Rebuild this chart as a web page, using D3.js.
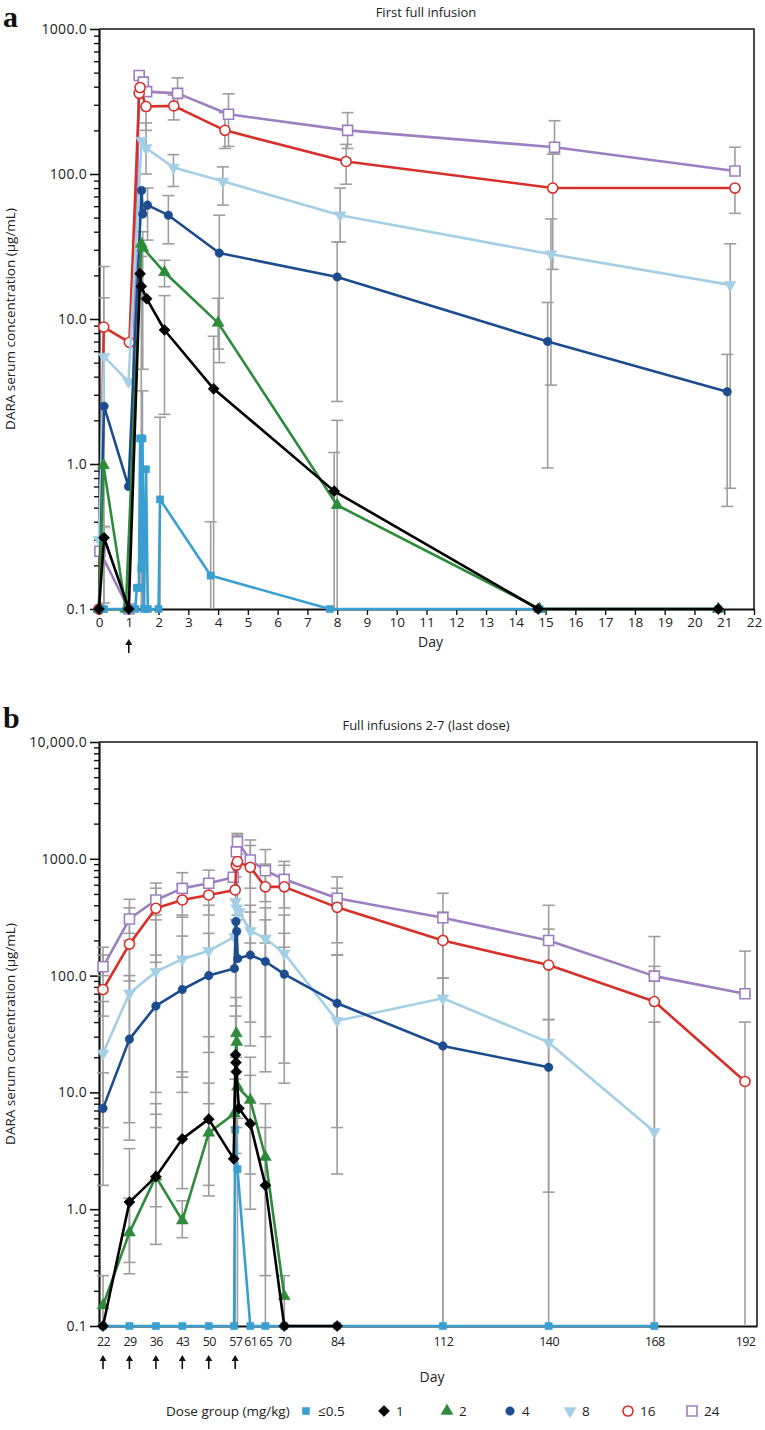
<!DOCTYPE html>
<html><head><meta charset="utf-8">
<script src="https://cdn.jsdelivr.net/npm/d3@7"></script>
<style>
body{margin:0;background:#fff}
svg{display:block}
text{font-family:"Open Sans",sans-serif;fill:#222}
text.panel-letter{font-family:"Liberation Serif","Times New Roman",serif;font-weight:bold;fill:#111}
</style>
</head><body>
<svg id="c" width="765" height="1430"></svg>
<script>
// ---------------- DATA ----------------
const seriesKeys = ["24","16","8","4","2","≤0.5","1"];
const legendKeys = ["≤0.5","1","2","4","8","16","24"];

// Panel a: first full infusion (day, value)
const aDays05 = [0, 0.17, 1.0, 1.22, 1.27, 1.34, 1.38, 1.42, 1.46, 1.51, 1.58, 1.64, 2.0, 2.05, 3.75, 7.75, 14.8, 20.8];
const aVals05 = [0.1, 0.1, 0.1, 0.1, 0.14, 0.14, 1.5, 0.19, 1.5, 0.1, 0.92, 0.1, 0.1, 0.57, 0.17, 0.1, 0.1, 0.1];
const aDays1  = [0, 0.17, 1.0, 1.38, 1.42, 1.6, 2.2, 3.85, 7.9, 14.75, 20.8];
const aVals1  = [0.1, 0.31, 0.1, 20.5, 16.8, 13.8, 8.4, 3.3, 0.65, 0.1, 0.1];
const aDays2  = [0, 0.15, 0.9, 1.42, 1.47, 2.2, 4.0, 8.0, 14.8, 20.8];
const aVals2  = [0.1, 0.98, 0.1, 33, 31, 21, 9.4, 0.52, 0.1, 0.1];
const aDays4  = [0, 0.17, 0.99, 1.43, 1.47, 1.63, 2.33, 4.04, 8.0, 15.07, 21.1];
const aVals4  = [0.1, 2.5, 0.7, 77, 53, 61, 52, 28.5, 19.5, 7.0, 3.15];
const aDays8  = [0, 0.17, 0.99, 1.43, 1.58, 2.5, 4.16, 8.1, 15.18, 21.2];
const aVals8  = [0.3, 5.5, 3.7, 170, 151, 111, 89, 52, 28, 17.2];
const aDays16 = [0, 0.16, 1.02, 1.35, 1.38, 1.58, 2.51, 4.23, 8.3, 15.24, 21.36];
const aVals16 = [0.1, 8.8, 6.9, 360, 395, 292, 295, 200, 122, 80, 80];
const aDays24 = [0.03, 1.0, 1.35, 1.49, 1.6, 2.64, 4.35, 8.35, 15.3, 21.36];
const aVals24 = [0.25, 0.1, 478, 430, 370, 360, 258, 200, 153, 105];

// Panel a error bars: [day, upper, lower]
const aErr05 = [[1.46, 3.2, 0.1], [2.05, 2.1, 0.1], [3.75, 0.4, 0.1]];
const aErr1  = [[0.17, 0.37, 0.11], [1.42, 27, 0.1], [2.2, 14.5, 2.2], [3.85, 7.6, 0.1], [7.9, 1.2, 0.1]];
const aErr2  = [[1.47, 40, 4.5], [2.2, 25.4, 16.7], [4.0, 13.9, 6.2], [8.0, 2.0, 0.1]];
const aErr4  = [[1.63, 80, 35], [2.33, 71, 33], [4.04, 52, 5], [8.0, 34, 2.7], [15.07, 13, 0.94], [21.1, 5.7, 0.51]];
const aErr8  = [[0.16, 14, 0.37], [1.58, 225, 100], [2.5, 136, 82], [4.16, 112, 61], [8.1, 80, 34], [15.18, 49, 3.5], [21.2, 33, 0.68]];
const aErr16 = [[0.16, 23, 0.1], [1.58, 292, 200], [2.51, 350, 236], [4.23, 265, 150], [8.3, 160, 85], [15.24, 137, 22], [21.36, 80, 53.5]];
const aErr24 = [[2.64, 460, 280], [4.35, 357, 155], [8.35, 265, 150], [15.3, 233, 137], [21.36, 153, 105]];

// Panel b: full infusions 2-7
const bDays05 = [22, 29, 36, 43, 50, 56.7, 57.0, 57.6, 61, 65, 70, 84, 112, 140, 168];
const bVals05 = [0.1, 0.1, 0.1, 0.1, 0.1, 0.1, 4.8, 2.2, 0.1, 0.1, 0.1, 0.1, 0.1, 0.1, 0.1];
const bDays1  = [22, 29, 36, 43, 50, 56.6, 57.1, 57.2, 57.3, 58.0, 61, 65, 70, 84];
const bVals1  = [0.1, 1.15, 1.9, 4.0, 5.9, 2.7, 21, 18, 15, 7.3, 5.4, 1.6, 0.1, 0.1];
const bDays2  = [22, 29, 36, 43, 50, 56.8, 57.3, 57.4, 57.6, 61, 65, 70];
const bVals2  = [0.15, 0.63, 1.9, 0.8, 4.5, 6.6, 32, 27, 11.2, 8.6, 2.8, 0.18];
const bDays4  = [22, 29, 36, 43, 50, 56.8, 57.2, 57.4, 57.7, 61, 65, 70, 84, 112, 140];
const bVals4  = [7.3, 28.6, 55, 76, 100, 115, 290, 240, 140, 150, 132, 103, 58, 25, 16.4];
const bDays8  = [22, 29, 36, 43, 50, 56.8, 57.1, 57.4, 58.1, 61, 65, 70, 84, 112, 140, 168];
const bVals8  = [21.6, 70.5, 108, 138, 163, 215, 430, 377, 350, 242, 208, 155, 41, 64, 26.8, 4.6];
const bDays16 = [22, 29, 36, 43, 50, 57, 57.3, 57.6, 61, 65, 70, 84, 112, 140, 168, 192];
const bVals16 = [76, 186, 377, 444, 490, 541, 885, 946, 845, 575, 575, 384, 200, 123, 60, 12.4];
const bDays24 = [22, 29, 36, 43, 50, 56.5, 57.3, 57.6, 61, 65, 70, 84, 112, 140, 168, 192];
const bVals24 = [119, 305, 444, 558, 617, 695, 1150, 1400, 977, 790, 667, 460, 313, 200, 99, 70];

const bErr05 = [[57.0, 13, 0.1], [57.6, 6, 0.1]];
const bErr1  = [[29, 3.3, 0.35], [36, 8, 1.05], [43, 15, 1.5], [50, 30, 1.3], [57.1, 45, 3], [61, 14, 1], [65, 5, 0.1]];
const bErr2  = [[22, 0.27, 0.1], [29, 1.24, 0.28], [36, 6.5, 0.5], [43, 1.18, 0.57], [50, 12, 1.6], [57.3, 65, 5], [61, 20, 2], [65, 8, 0.27], [70, 0.27, 0.1]];
const bErr4  = [[22, 14.7, 1.6], [29, 100, 3.9], [36, 150, 5], [43, 218, 10], [50, 230, 8], [57.2, 300, 20], [61, 350, 25], [65, 300, 15], [70, 230, 12], [84, 150, 5], [140, 42, 1.4]];
const bErr8  = [[22, 60, 5], [29, 200, 5.5], [36, 300, 10], [43, 330, 13.5], [50, 400, 22], [57.1, 700, 55], [61, 400, 40], [65, 380, 30], [70, 330, 17.8], [84, 150, 2], [112, 95, 0.1], [168, 40, 0.1]];
const bErr16 = [[22, 150, 45], [29, 380, 90], [36, 560, 130], [43, 600, 316], [50, 640, 330], [57.6, 1600, 330], [61, 1300, 190], [65, 900, 190], [70, 880, 175], [84, 560, 150], [112, 350, 0.1], [140, 250, 0.1], [168, 120, 0.1], [192, 40, 0.1]];
const bErr24 = [[22, 175, 100], [29, 450, 230], [36, 620, 330], [43, 760, 430], [50, 800, 470], [57.6, 1650, 1100], [61, 1450, 560], [65, 1200, 430], [70, 950, 380], [84, 700, 191], [112, 507, 95], [140, 400, 42], [168, 216, 99], [192, 162, 70]];

const aXTicks = [0,1,2,3,4,5,6,7,8,9,10,11,12,13,14,15,16,17,18,19,20,21,22];
const bXTicks = [22,29,36,43,50,57,61,65,70,84,112,140,168,192];
const aYTicks = [0.1, 1, 10, 100, 1000];
const aYLabels = ["0.1","1.0","10.0","100.0","1000.0"];
const bYTicks = [0.1, 1, 10, 100, 1000, 10000];
const bYLabels = ["0.1","1.0","10.0","100.0","1000.0","10,000.0"];
const aArrows = [1];
const bArrows = [22,29,36,43,50,57];

// ---------------- STYLE ----------------
const color = {"≤0.5":"#3a9fd0","1":"#000000","2":"#2e8b3c","4":"#1d4c8e","8":"#a5cfe4","16":"#d7302a","24":"#9d7fc1"};
const shape = {"≤0.5":"square","1":"diamond","2":"tri","4":"circle","8":"tridown","16":"circle","24":"square"};
const msize = {"≤0.5":52,"1":62,"2":62,"4":58,"8":62,"16":80,"24":100};
const hollow = {"16":true,"24":true};

const svg = d3.select("#c");

function symPath(k){
  const s = shape[k];
  const t = s==="square"||s==="diamond" ? d3.symbolSquare : s==="circle" ? d3.symbolCircle : d3.symbolTriangle;
  return d3.symbol().type(t).size(msize[k])();
}
function symRot(k){ return shape[k]==="diamond"?45:shape[k]==="tridown"?180:0; }

function drawPanel(p){
  const g = svg.append("g");
  const x = d3.scaleLinear().domain(p.xDomain).range([p.left, p.right]);
  const y = d3.scaleLog().domain([0.1, p.yTicks[p.yTicks.length-1]]).range([p.bottom, p.top]);

  g.append("path").attr("d",`M${p.left},${p.top}H${p.right}V${p.bottom}`)
    .attr("fill","none").attr("stroke","#111").attr("stroke-width",1.5);

  const minor = [];
  p.yTicks.slice(0,-1).forEach(d=>{ for(let k=2;k<10;k++) minor.push(d*k); });
  g.append("g").attr("transform",`translate(${p.left},0)`)
    .call(d3.axisLeft(y).tickValues(minor).tickSize(5).tickSizeOuter(0).tickFormat(""))
    .call(s=>s.select(".domain").remove())
    .call(s=>s.selectAll("line").attr("stroke","#111").attr("stroke-width",1.4));
  const ya = g.append("g").attr("transform",`translate(${p.left},0)`)
    .call(d3.axisLeft(y).tickValues(p.yTicks).tickSize(9).tickSizeOuter(0).tickPadding(3)
      .tickFormat((d,i)=>p.yLabels[i]));
  ya.select(".domain").attr("stroke","#111").attr("stroke-width",2.2);
  ya.selectAll("line").attr("stroke","#111").attr("stroke-width",1.6);
  ya.selectAll("text").attr("font-size",14).attr("letter-spacing",0.3);

  const xa = g.append("g").attr("transform",`translate(0,${p.bottom})`)
    .call(d3.axisBottom(x).tickValues(p.xTicks).tickSize(p.xTickSize).tickSizeOuter(0).tickPadding(p.xPad).tickFormat(d=>d));
  xa.select(".domain").attr("stroke","#111").attr("stroke-width",2.2);
  xa.selectAll("line").attr("stroke","#111").attr("stroke-width",1.4);
  xa.selectAll("text").attr("font-size",p.xFont).attr("letter-spacing",p.xLS);

  g.append("text").attr("x",426).attr("y",p.top-12).attr("text-anchor","middle").attr("font-size",13).text(p.title);
  g.append("text").attr("x",p.left+(p.right-p.left)/2+4).attr("y",p.dayY).attr("text-anchor","middle").attr("font-size",14).text("Day");
  g.append("text").attr("transform",`translate(${p.labelX},${(p.top+p.bottom)/2}) rotate(-90)`)
    .attr("text-anchor","middle").attr("font-size",13.5).text("DARA serum concentration (μg/mL)");
  g.append("text").attr("class","panel-letter").attr("x",3).attr("y",p.letterY)
    .attr("font-size",30).text(p.letter);

  p.arrows.forEach(d=>{
    const ax = x(d);
    g.append("line").attr("x1",ax).attr("x2",ax).attr("y1",p.arrowY+13).attr("y2",p.arrowY+3)
      .attr("stroke","#111").attr("stroke-width",1.6);
    g.append("path").attr("d",`M${ax-3.5},${p.arrowY+5}L${ax},${p.arrowY-1}L${ax+3.5},${p.arrowY+5}Z`).attr("fill","#111");
  });

  const eg = g.append("g").attr("stroke","#9e9e9e").attr("stroke-width",1.6).attr("fill","none");
  p.keys.forEach(k=>{
    p.err[k].forEach(([d,hi,lo])=>{
      const ex = x(d);
      eg.append("line").attr("x1",ex).attr("x2",ex).attr("y1",y(Math.max(lo,0.1))).attr("y2",y(hi));
      eg.append("line").attr("x1",ex-6).attr("x2",ex+6).attr("y1",y(hi)).attr("y2",y(hi));
      if(lo>0.1) eg.append("line").attr("x1",ex-6).attr("x2",ex+6).attr("y1",y(lo)).attr("y2",y(lo));
    });
  });

  const line = d3.line().x(d=>x(d[0])).y(d=>y(d[1]));
  p.keys.forEach(k=>{
    const pts = p.days[k].map((d,i)=>[d,p.vals[k][i]]);
    g.append("path").datum(pts).attr("d",line).attr("fill","none")
      .attr("stroke",color[k]).attr("stroke-width",2.6).attr("stroke-linejoin","round");
    g.selectAll(null).data(pts).enter().append("path")
      .attr("d",symPath(k))
      .attr("transform",d=>`translate(${x(d[0])},${y(d[1])}) rotate(${symRot(k)})`)
      .attr("fill",hollow[k]?"#fff":color[k])
      .attr("stroke",color[k]).attr("stroke-width",hollow[k]?1.6:0.5);
  });
}

drawPanel({
  letter:"a", letterY:27, title:"First full infusion",
  left:99, right:754, top:29, bottom:609, xDomain:[0,22],
  xTicks:aXTicks, xTickSize:6, xPad:2, xFont:13.5, xLS:0,
  yTicks:aYTicks, yLabels:aYLabels, labelX:15, dayY:647, arrowY:640, arrows:aArrows,
  keys:seriesKeys,
  days:{"≤0.5":aDays05,"1":aDays1,"2":aDays2,"4":aDays4,"8":aDays8,"16":aDays16,"24":aDays24},
  vals:{"≤0.5":aVals05,"1":aVals1,"2":aVals2,"4":aVals4,"8":aVals8,"16":aVals16,"24":aVals24},
  err:{"≤0.5":aErr05,"1":aErr1,"2":aErr2,"4":aErr4,"8":aErr8,"16":aErr16,"24":aErr24}
});

drawPanel({
  letter:"b", letterY:728, title:"Full infusions 2-7 (last dose)",
  left:99, right:757, top:742, bottom:1326, xDomain:[20.94,195.18],
  xTicks:bXTicks, xTickSize:0, xPad:11, xFont:12.5, xLS:-0.6,
  yTicks:bYTicks, yLabels:bYLabels, labelX:15, dayY:1382, arrowY:1356, arrows:bArrows,
  keys:seriesKeys,
  days:{"≤0.5":bDays05,"1":bDays1,"2":bDays2,"4":bDays4,"8":bDays8,"16":bDays16,"24":bDays24},
  vals:{"≤0.5":bVals05,"1":bVals1,"2":bVals2,"4":bVals4,"8":bVals8,"16":bVals16,"24":bVals24},
  err:{"≤0.5":bErr05,"1":bErr1,"2":bErr2,"4":bErr4,"8":bErr8,"16":bErr16,"24":bErr24}
});

const legY = 1411;
const legMarkX = {"≤0.5":306,"1":384,"2":447,"4":510,"8":570,"16":628,"24":692};
const lg = svg.append("g");
lg.append("text").attr("x",166).attr("y",legY+5).attr("font-size",13.5).text("Dose group (mg/kg)");
legendKeys.forEach(k=>{
  lg.append("path").attr("d",symPath(k))
    .attr("transform",`translate(${legMarkX[k]},${legY}) rotate(${symRot(k)})`)
    .attr("fill",hollow[k]?"#fff":color[k]).attr("stroke",color[k]).attr("stroke-width",hollow[k]?1.6:0.5);
  lg.append("text").attr("x",legMarkX[k]+12).attr("y",legY+5).attr("font-size",13.5).text(k);
});
</script>
</body></html>
